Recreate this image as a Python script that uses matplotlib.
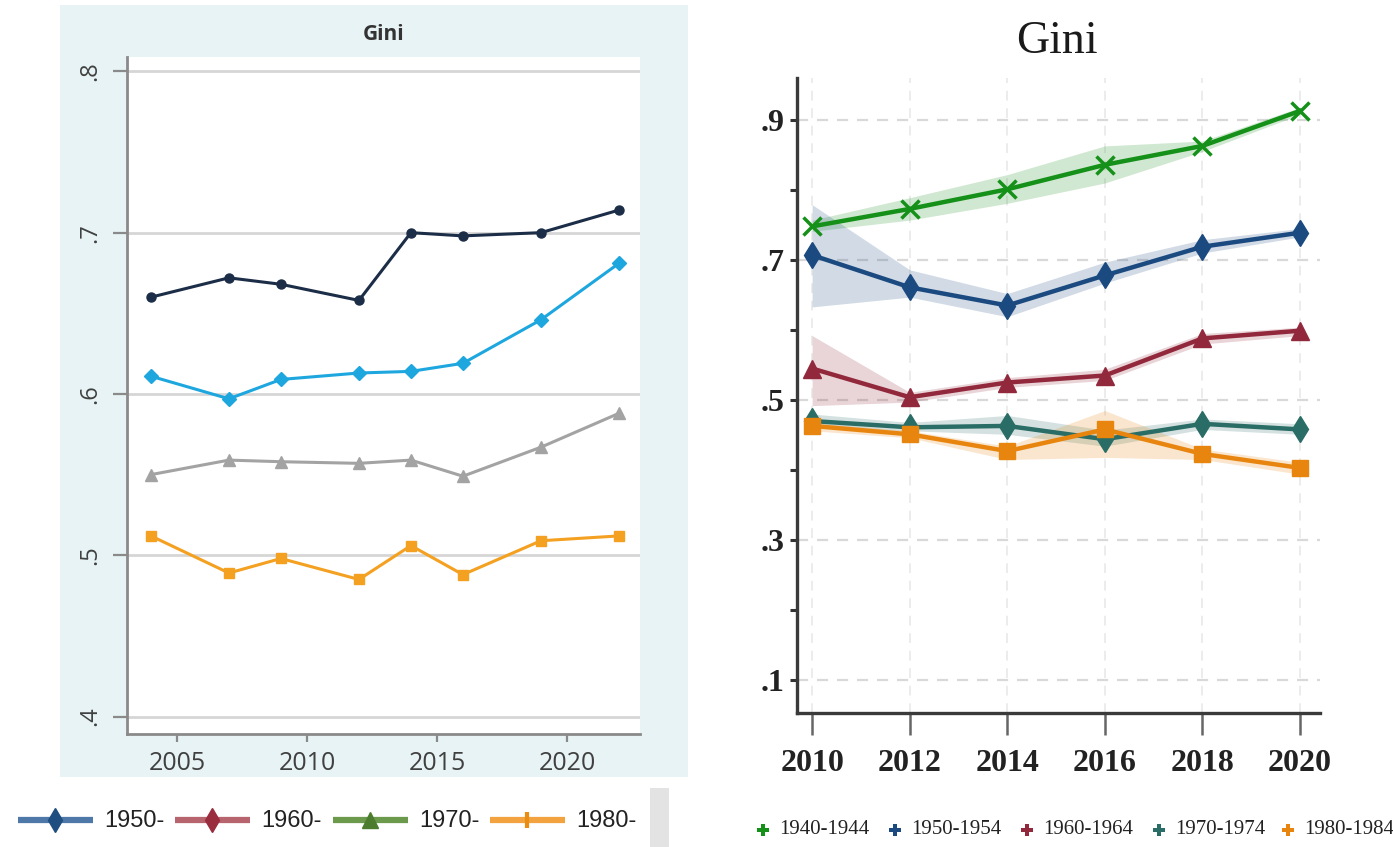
import matplotlib
matplotlib.use("Agg")
import matplotlib.pyplot as plt
from matplotlib.patches import Rectangle

W, H = 1393, 847

# ---- Left panel: Gini by survey year, four birth cohorts ----
left_years = [2004, 2007, 2009, 2012, 2014, 2016, 2019, 2022]
gini_1950s = [0.660, 0.672, 0.668, 0.658, 0.700, 0.698, 0.700, 0.714]
gini_1960s = [0.611, 0.597, 0.609, 0.613, 0.614, 0.619, 0.646, 0.681]
gini_1970s = [0.550, 0.559, 0.558, 0.557, 0.559, 0.549, 0.567, 0.588]
gini_1980s = [0.512, 0.489, 0.498, 0.485, 0.506, 0.488, 0.509, 0.512]
left_labels = ["1950-", "1960-", "1970-", "1980-"]
left_xticks = [2005, 2010, 2015, 2020]
left_yticks = [0.4, 0.5, 0.6, 0.7, 0.8]
left_ytick_labels = [".4", ".5", ".6", ".7", ".8"]

# ---- Right panel: Gini with confidence bands, five cohorts ----
right_years = [2010, 2012, 2014, 2016, 2018, 2020]
right_labels = ["1940-1944", "1950-1954", "1960-1964", "1970-1974", "1980-1984"]
gini_1940_44 = [0.748, 0.773, 0.801, 0.836, 0.863, 0.913]
lo_1940_44 = [0.741, 0.757, 0.781, 0.810, 0.855, 0.908]
hi_1940_44 = [0.757, 0.789, 0.822, 0.863, 0.870, 0.918]
gini_1950_54 = [0.707, 0.661, 0.635, 0.678, 0.719, 0.739]
lo_1950_54 = [0.633, 0.647, 0.619, 0.667, 0.710, 0.733]
hi_1950_54 = [0.779, 0.686, 0.652, 0.697, 0.729, 0.745]
gini_1960_64 = [0.545, 0.504, 0.525, 0.535, 0.588, 0.599]
lo_1960_64 = [0.492, 0.497, 0.518, 0.528, 0.580, 0.592]
hi_1960_64 = [0.592, 0.511, 0.532, 0.544, 0.595, 0.604]
gini_1970_74 = [0.470, 0.461, 0.463, 0.444, 0.466, 0.458]
lo_1970_74 = [0.461, 0.456, 0.451, 0.434, 0.458, 0.451]
hi_1970_74 = [0.480, 0.468, 0.478, 0.457, 0.473, 0.466]
gini_1980_84 = [0.463, 0.451, 0.427, 0.458, 0.423, 0.403]
lo_1980_84 = [0.456, 0.446, 0.415, 0.418, 0.415, 0.394]
hi_1980_84 = [0.468, 0.456, 0.434, 0.485, 0.430, 0.411]
right_xticks = [2010, 2012, 2014, 2016, 2018, 2020]
right_yticks = [0.1, 0.3, 0.5, 0.7, 0.9]
right_ytick_labels = [".1", ".3", ".5", ".7", ".9"]
right_minor_yticks = [0.2, 0.4, 0.6, 0.8]


def box(x0, y0, x1, y1):
    """Pixel box (top-left origin) -> figure-fraction rect."""
    return [x0 / W, 1 - y1 / H, (x1 - x0) / W, (y1 - y0) / H]


fig = plt.figure(figsize=(W / 100, H / 100), dpi=100, facecolor="white")

# background panel behind the left chart
fig.patches.append(Rectangle((60 / W, 1 - 777 / H), (688 - 60) / W, (777 - 5) / H,
                             transform=fig.transFigure, facecolor="#e7f3f4",
                             edgecolor="none", zorder=-2))
fig.patches.append(Rectangle((650 / W, 0), (669 - 650) / W, (847 - 788) / H,
                             transform=fig.transFigure, facecolor="#e3e3e3",
                             edgecolor="none", zorder=-2))

# ================= Left chart =================
axl = fig.add_axes(box(127, 57, 640, 734), zorder=1)
axl.set_facecolor("white")
grid_c = "#d6d6d6"
for v in left_yticks:
    axl.axhline(v, color=grid_c, lw=2, zorder=1)

axl.plot(left_years, gini_1950s, color="#1c2d48", lw=2.2, marker="o", ms=6.5, zorder=3)
axl.plot(left_years, gini_1960s, color="#1ea7df", lw=2.2, marker="D", ms=7, zorder=3)
axl.plot(left_years, gini_1970s, color="#a3a3a3", lw=2.2, marker="^", ms=8, zorder=3)
axl.plot(left_years, gini_1980s, color="#f4a021", lw=2.2, marker="s", ms=7.5, zorder=3)

axl.set_xlim(2003.08, 2022.81)
axl.set_ylim(0.3892, 0.8089)
axl.set_xticks(left_xticks)
axl.set_xticklabels([str(t) for t in left_xticks])
axl.set_yticks(left_yticks)
axl.set_yticklabels(left_ytick_labels, rotation=90, va="center")
for s in ("top", "right"):
    axl.spines[s].set_visible(False)
for s in ("left", "bottom"):
    axl.spines[s].set_color("#8a8a8a")
    axl.spines[s].set_linewidth(2)
axl.tick_params(axis="x", length=6, width=1.6, color="#8a8a8a", pad=6,
                labelsize=18, labelcolor="#404040")
axl.tick_params(axis="y", length=10, width=1.6, color="#8a8a8a", pad=8,
                labelsize=17, labelcolor="#404040")
for lab in axl.get_xticklabels() + axl.get_yticklabels():
    lab.set_fontfamily(["Open Sans", "DejaVu Sans"])
fig.text(384 / W, 1 - 34 / H, "Gini", ha="center", va="center", fontsize=15,
         fontweight="bold", color="#333333", family=["Open Sans", "DejaVu Sans"])

# ================= Right chart =================
axr = fig.add_axes(box(797, 78, 1320, 713), zorder=1)
axr.set_facecolor("white")
for v in right_yticks:
    axr.axhline(v, color="#d9d9d9", lw=1.6, ls=(0, (5, 4)), zorder=1)
for v in right_xticks:
    axr.axvline(v, color="#ececec", lw=1.4, ls=(0, (5, 4)), zorder=1)

right_series = [
    (gini_1940_44, lo_1940_44, hi_1940_44, "#159019", "x"),
    (gini_1950_54, lo_1950_54, hi_1950_54, "#1b4a80", "d"),
    (gini_1960_64, lo_1960_64, hi_1960_64, "#92283c", "^"),
    (gini_1970_74, lo_1970_74, hi_1970_74, "#2a6d66", "d"),
    (gini_1980_84, lo_1980_84, hi_1980_84, "#e8850f", "s"),
]
for vals, lo, hi, col, mk in right_series:
    axr.fill_between(right_years, lo, hi, color=col, alpha=0.2, lw=0, zorder=2)
for vals, lo, hi, col, mk in right_series:
    ms = 13 if mk != "s" else 11
    axr.plot(right_years, vals, color=col, lw=3.2, marker=mk, ms=ms,
             mew=2.5 if mk == "x" else 1, zorder=3)

axr.set_xlim(2009.69, 2020.41)
axr.set_ylim(0.0529, 0.96)
axr.set_xticks(right_xticks)
axr.set_xticklabels([str(t) for t in right_xticks])
axr.set_yticks(right_yticks)
axr.set_yticklabels(right_ytick_labels)
axr.set_yticks(right_minor_yticks, minor=True)
for s in ("top", "right"):
    axr.spines[s].set_visible(False)
for s in ("left", "bottom"):
    axr.spines[s].set_color("#3a3a3a")
    axr.spines[s].set_linewidth(2.4)
axr.tick_params(axis="x", length=16, width=1.8, color="#666666", pad=10,
                labelsize=23, labelcolor="#222222")
axr.tick_params(axis="y", which="both", length=5, width=2.2, color="#333333", pad=4,
                labelsize=23, labelcolor="#222222")
for lab in axr.get_xticklabels() + axr.get_yticklabels():
    lab.set_fontfamily(["Liberation Serif", "DejaVu Serif"])
    lab.set_fontweight("bold")
fig.text(1057 / W, 1 - 42 / H, "Gini", ha="center", va="center", fontsize=33,
         color="#1a1a1a", family=["Liberation Serif", "DejaVu Serif"])

# ================= Legends =================
leg = fig.add_axes([0, 0, 1, 1], zorder=5)
leg.set_xlim(0, W)
leg.set_ylim(H, 0)
leg.axis("off")

left_key_x = [18, 175, 333, 490]
left_key_line = ["#4d78a8", "#b8646f", "#6c9a4c", "#f2a23e"]
left_key_mark = ["#1f4e80", "#9a2d3d", "#4c7d2e", "#ea8c12"]
left_key_mk = ["d", "d", "^", "|"]
ky = 820
for x0, lc, mc, mk, lab in zip(left_key_x, left_key_line, left_key_mark,
                               left_key_mk, left_labels):
    leg.plot([x0, x0 + 75], [ky, ky], color=lc, lw=4.5, solid_capstyle="butt")
    leg.plot([x0 + 37], [ky], marker=mk, color=mc, ms=12, mew=3 if mk == "|" else 1)
    leg.text(x0 + 86, ky + 1, lab, ha="left", va="center", fontsize=17,
             color="#222222", family=["Liberation Sans", "DejaVu Sans"])

right_key_x = [763, 895, 1027, 1159, 1288]
right_key_col = ["#159019", "#1b4a80", "#92283c", "#2a6d66", "#e8850f"]
for x0, col, lab in zip(right_key_x, right_key_col, right_labels):
    leg.plot([x0], [830], marker="P", color=col, ms=9, mew=0)
    leg.text(x0 + 16, 830, lab, ha="left", va="center", fontsize=15,
             color="#222222", family=["Liberation Serif", "DejaVu Serif"])

fig.savefig("out.png", dpi=100, facecolor="white")
